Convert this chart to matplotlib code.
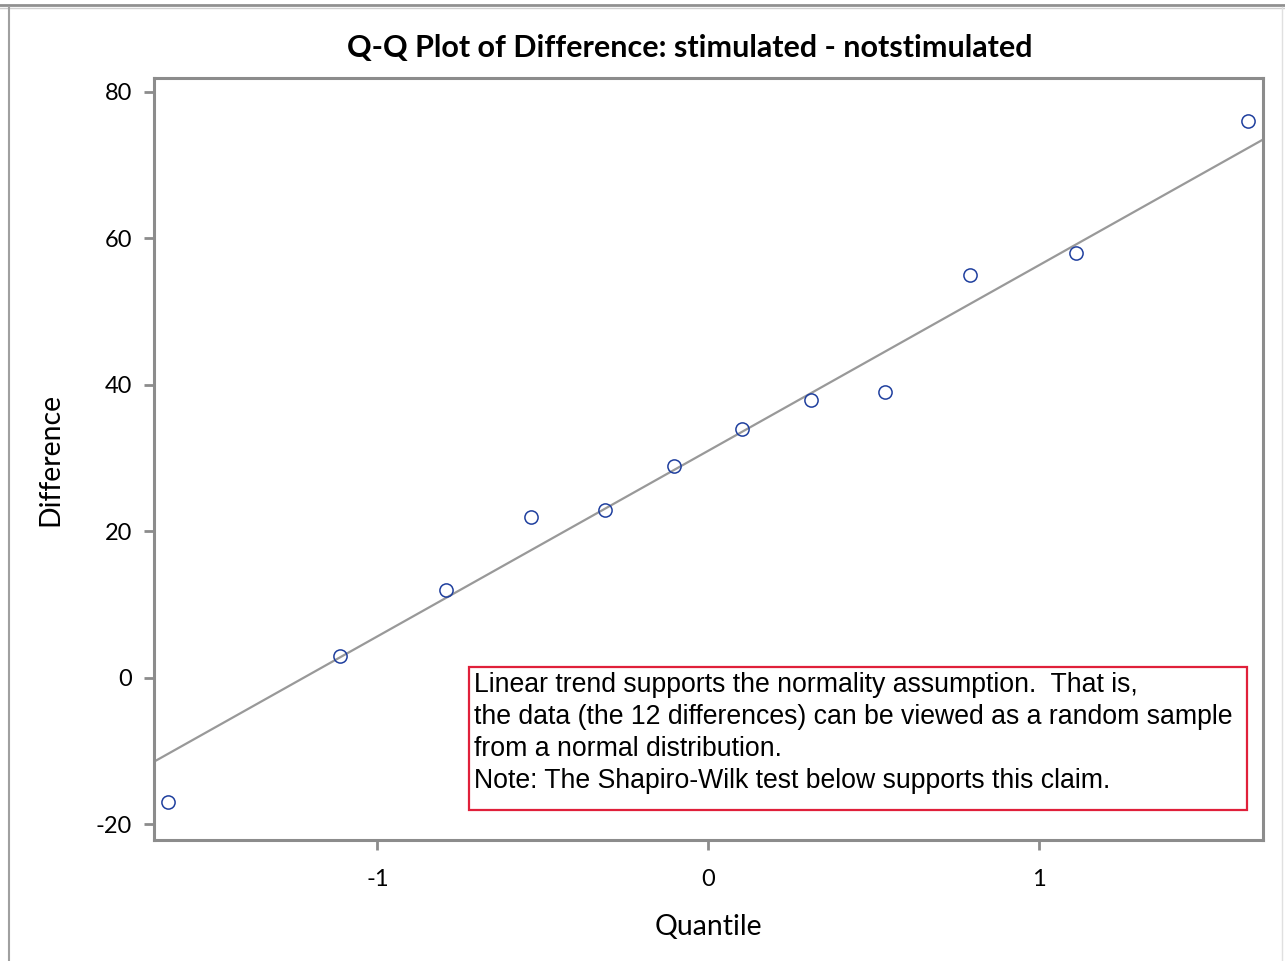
import numpy as np
import matplotlib
matplotlib.use("Agg")
import matplotlib.pyplot as plt
from matplotlib.lines import Line2D
from statistics import NormalDist

# Data
differences = [-17, 3, 12, 22, 23, 29, 34, 38, 39, 55, 58, 76]
title = "Q-Q Plot of Difference: stimulated - notstimulated"
xlabel = "Quantile"
ylabel = "Difference"
xticks = [-1, 0, 1]
yticks = [-20, 0, 20, 40, 60, 80]
note_lines = [
    "Linear trend supports the normality assumption.  That is,",
    "the data (the 12 differences) can be viewed as a random sample",
    "from a normal distribution.",
    "Note: The Shapiro-Wilk test below supports this claim.",
]

# Normal quantiles (Blom)
n = len(differences)
y = np.sort(np.array(differences, dtype=float))
q = np.array([NormalDist().inv_cdf((i - 0.375) / (n + 0.25)) for i in range(1, n + 1)])
mu = y.mean()
sd = y.std(ddof=1)

plt.rcParams['font.family'] = ['Lato', 'DejaVu Sans']

fig = plt.figure(figsize=(12.85, 9.61), dpi=100)
ax = fig.add_axes([154/1285, 1-840/961, (1263-154)/1285, (840-78)/961])

xlim = (-1.676, 1.679)
ylim = (-22.12, 81.91)
xs = np.array(xlim)
ax.plot(xs, mu + sd * xs, color='#999999', lw=1.6, zorder=2)
ax.plot(q, y, linestyle='none', marker='o', markersize=9.5, markerfacecolor='none',
        markeredgecolor='#1f3f9e', markeredgewidth=1.1, zorder=3)

ax.set_xlim(*xlim)
ax.set_ylim(*ylim)
ax.set_xticks(xticks)
ax.set_yticks(yticks)
ax.set_xticklabels([str(t) for t in xticks])
ax.set_yticklabels([str(t) for t in yticks])
for s in ax.spines.values():
    s.set_color('#8c8c8c')
    s.set_linewidth(2.2)
ax.tick_params(axis='both', colors='#8c8c8c', length=7, width=2, labelcolor='black', labelsize=17)
ax.tick_params(axis='x', pad=14)
ax.tick_params(axis='y', pad=9)
ax.set_xlabel(xlabel, fontsize=20.4, labelpad=17)
ax.set_ylabel(ylabel, fontsize=20.4, labelpad=23)
fig.text(690/1285, 1-48/961, title, ha='center', va='center', fontsize=22, fontweight='bold')

# Annotation box
bx0, bx1 = 469, 1247
by0, by1 = 667, 810
def fx(px):
    return px / 1285
def fy(py):
    return 1 - py / 961
rect = plt.Rectangle((fx(bx0), fy(by1)), fx(bx1) - fx(bx0), fy(by0) - fy(by1),
                     transform=fig.transFigure, fill=False, edgecolor='#e0203a', lw=1.6, zorder=5)
fig.patches.append(rect)
for i, line in enumerate(note_lines):
    fig.text(fx(474), fy(685 + 32 * i), line, ha='left', va='center', fontsize=19.2,
             family=['Liberation Sans', 'DejaVu Sans'])

# Outer frame lines (window border)
fig.add_artist(Line2D([0, 1], [fy(4.5), fy(4.5)], transform=fig.transFigure, color='#909090', lw=2))
fig.add_artist(Line2D([0, 1], [fy(7.5), fy(7.5)], transform=fig.transFigure, color='#d0d0d0', lw=1))
fig.add_artist(Line2D([fx(8.5), fx(8.5)], [0, fy(7)], transform=fig.transFigure, color='#a0a0a0', lw=1.5))
fig.add_artist(Line2D([fx(1282), fx(1282)], [0, fy(7)], transform=fig.transFigure, color='#e0e0e0', lw=1))

fig.savefig('out.png', dpi=100)
